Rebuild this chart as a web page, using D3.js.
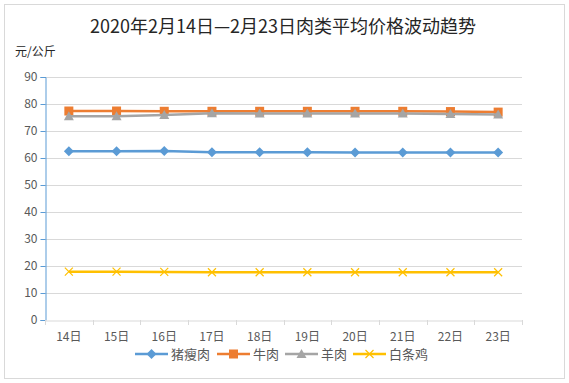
<!DOCTYPE html>
<html>
<head>
<meta charset="utf-8">
<script src="https://cdn.jsdelivr.net/npm/d3@7"></script>
<style>
  body { margin: 0; background: #fff; }
  text { font-family: "Noto Sans CJK SC", "DejaVu Sans", sans-serif; }
</style>
</head>
<body>
<div id="chart"></div>
<script>
// 2020年2月 肉类平均价格 (元/公斤)
const days = ["14日", "15日", "16日", "17日", "18日", "19日", "20日", "21日", "22日", "23日"];
const pork = [62.5, 62.5, 62.6, 62.1, 62.1, 62.1, 62.0, 62.0, 62.0, 62.0];
const beef = [77.4, 77.4, 77.3, 77.3, 77.3, 77.3, 77.3, 77.3, 77.2, 77.0];
const mutton = [75.5, 75.5, 75.9, 76.6, 76.5, 76.5, 76.5, 76.5, 76.3, 76.1];
const chicken = [17.9, 17.9, 17.8, 17.7, 17.7, 17.7, 17.7, 17.7, 17.7, 17.7];
const yTicks = [0, 10, 20, 30, 40, 50, 60, 70, 80, 90];

const series = [
    { name: "猪瘦肉", values: pork, color: "#5B9BD5", marker: "diamond" },
    { name: "牛肉", values: beef, color: "#ED7D31", marker: "square" },
    { name: "羊肉", values: mutton, color: "#A5A5A5", marker: "triangle" },
    { name: "白条鸡", values: chicken, color: "#FFC000", marker: "cross" }
];

const W = 569, H = 383;
const svg = d3.select("#chart").append("svg").attr("width", W).attr("height", H);

// outer frame
svg.append("rect").attr("x", 4.5).attr("y", 4.5).attr("width", 560).attr("height", 374)
    .attr("fill", "#fff").attr("stroke", "#d9d9d9");

const plotLeft = 45, plotRight = 522, plotTop = 77, plotBottom = 320;

const x = d3.scaleBand().domain(days).range([plotLeft, plotRight]);
const y = d3.scaleLinear().domain([0, 90]).range([plotBottom, plotTop]);

// grid
svg.append("g").selectAll("line").data(yTicks.filter(d => d > 0)).enter().append("line")
    .attr("x1", plotLeft).attr("x2", plotRight)
    .attr("y1", d => Math.round(y(d)) + 0.5).attr("y2", d => Math.round(y(d)) + 0.5)
    .attr("stroke", "#d9d9d9");

// y axis
const yAxis = svg.append("g").attr("transform", `translate(${plotLeft + 0.5},0)`)
    .call(d3.axisLeft(y).tickValues(yTicks).tickSize(5).tickPadding(3));
yAxis.select(".domain").attr("stroke", "#5B9BD5");
yAxis.selectAll(".tick line").attr("stroke", "#5B9BD5");
yAxis.selectAll("text").attr("fill", "#595959").style("font-size", "12px");

// x axis
const xAxis = svg.append("g").attr("transform", `translate(0,${plotBottom + 0.5})`)
    .call(d3.axisBottom(x).tickSize(0).tickPadding(12));
xAxis.select(".domain").attr("stroke", "#d9d9d9");
xAxis.selectAll("text").attr("fill", "#595959").style("font-size", "12px");
svg.append("g").selectAll("line").data(d3.range(days.length + 1)).enter().append("line")
    .attr("x1", i => Math.round(plotLeft + i * x.step()) + 0.5)
    .attr("x2", i => Math.round(plotLeft + i * x.step()) + 0.5)
    .attr("y1", plotBottom).attr("y2", plotBottom + 5)
    .attr("stroke", "#d9d9d9");

// lines
const line = d3.line()
    .x((d, i) => x(days[i]) + x.bandwidth() / 2)
    .y(d => y(d));

function drawMarker(g, type, color, cx, cy) {
    if (type === "diamond") {
        g.append("path").attr("d", `M${cx},${cy - 5}L${cx + 5},${cy}L${cx},${cy + 5}L${cx - 5},${cy}Z`)
            .attr("fill", color);
    } else if (type === "square") {
        g.append("rect").attr("x", cx - 4.5).attr("y", cy - 4.5).attr("width", 9).attr("height", 9)
            .attr("fill", color);
    } else if (type === "triangle") {
        g.append("path").attr("d", `M${cx},${cy - 5}L${cx + 5},${cy + 4}L${cx - 5},${cy + 4}Z`)
            .attr("fill", color);
    } else {
        g.append("path").attr("d", `M${cx - 4},${cy - 4}L${cx + 4},${cy + 4}M${cx + 4},${cy - 4}L${cx - 4},${cy + 4}`)
            .attr("stroke", color).attr("stroke-width", 1.2).attr("fill", "none");
    }
}

series.forEach(s => {
    const g = svg.append("g");
    g.append("path").datum(s.values).attr("d", line)
        .attr("fill", "none").attr("stroke", s.color).attr("stroke-width", 2.5);
    s.values.forEach((v, i) => {
        drawMarker(g, s.marker, s.color, x(days[i]) + x.bandwidth() / 2, y(v));
    });
});

// title
svg.append("text").attr("x", 283).attr("y", 33).attr("text-anchor", "middle")
    .style("font-size", "18px").attr("fill", "#262626")
    .text("2020年2月14日—2月23日肉类平均价格波动趋势");

// unit label
svg.append("text").attr("x", 15).attr("y", 56)
    .style("font-size", "12px").attr("fill", "#262626").text("元/公斤");

// legend
const legendX = [135, 217, 285, 353];
series.forEach((s, i) => {
    const g = svg.append("g").attr("transform", `translate(${legendX[i]},354)`);
    g.append("line").attr("x1", 0).attr("x2", 33).attr("y1", 0).attr("y2", 0)
        .attr("stroke", s.color).attr("stroke-width", 2.5);
    drawMarker(g, s.marker, s.color, 16.5, 0);
    g.append("text").attr("x", 36).attr("y", 5).style("font-size", "13px")
        .attr("fill", "#595959").text(s.name);
});
</script>
</body>
</html>
